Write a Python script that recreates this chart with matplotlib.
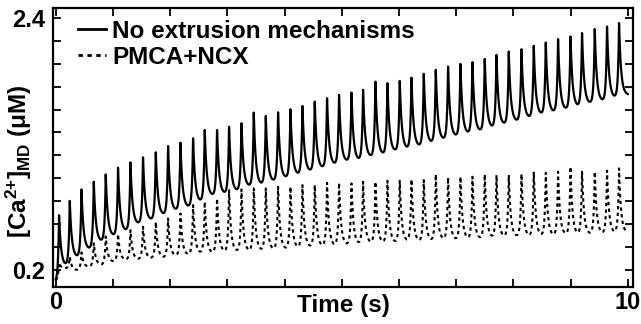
import numpy as np
import matplotlib
matplotlib.use("Agg")
import matplotlib.pyplot as plt
from matplotlib.ticker import MultipleLocator, FuncFormatter

# ---- data ----
spike_t = [0.056, 0.243, 0.448, 0.663, 0.872, 1.087, 1.304, 1.524, 1.747, 1.962,
           2.178, 2.399, 2.603, 2.818, 3.028, 3.245, 3.460, 3.670, 3.885, 4.101,
           4.311, 4.526, 4.741, 4.951, 5.168, 5.371, 5.587, 5.797, 6.012, 6.217,
           6.432, 6.642, 6.857, 7.073, 7.283, 7.498, 7.703, 7.918, 8.140, 8.355,
           8.565, 8.780, 8.997, 9.199, 9.421, 9.636, 9.846]

solid_start = 0.09
solid_peak = [0.676, 0.801, 0.901, 0.968, 1.033, 1.091, 1.138, 1.182, 1.226, 1.281,
              1.310, 1.348, 1.421, 1.421, 1.450, 1.480, 1.573, 1.544, 1.576, 1.602,
              1.631, 1.669, 1.699, 1.728, 1.748, 1.772, 1.844, 1.830, 1.850, 1.879,
              1.912, 1.947, 1.976, 1.999, 2.014, 2.043, 2.078, 2.107, 2.128, 2.157,
              2.186, 2.216, 2.239, 2.269, 2.304, 2.326, 2.356]
solid_trough = [0.229, 0.305, 0.375, 0.442, 0.492, 0.536, 0.597, 0.632, 0.676, 0.714,
                0.744, 0.790, 0.843, 0.860, 0.886, 0.924, 0.939, 0.968, 0.998, 1.027,
                1.056, 1.085, 1.114, 1.143, 1.152, 1.182, 1.202, 1.231, 1.252, 1.275,
                1.304, 1.333, 1.362, 1.386, 1.406, 1.436, 1.465, 1.494, 1.524, 1.552,
                1.573, 1.596, 1.620, 1.649, 1.669, 1.699, 1.728]

dotted_start = 0.10
dotted_peak = [0.26, 0.31, 0.35, 0.43, 0.49, 0.51, 0.545, 0.574, 0.617, 0.647,
               0.691, 0.764, 0.793, 0.822, 0.895, 0.901, 0.910, 0.910, 0.924, 0.924,
               0.939, 0.939, 0.959, 0.959, 0.954, 0.968, 0.968, 0.977, 0.977, 0.989,
               0.983, 1.033, 1.006, 1.012, 1.012, 1.033, 1.027, 1.027, 1.036, 1.056,
               1.047, 1.056, 1.099, 1.056, 1.056, 1.065, 1.085]
dotted_trough = [0.210, 0.194, 0.223, 0.238, 0.267, 0.282, 0.288, 0.297, 0.302, 0.317,
                 0.326, 0.340, 0.340, 0.349, 0.355, 0.355, 0.363, 0.369, 0.375, 0.384,
                 0.393, 0.398, 0.404, 0.413, 0.419, 0.428, 0.428, 0.433, 0.442, 0.442,
                 0.448, 0.457, 0.457, 0.463, 0.466, 0.475, 0.481, 0.486, 0.486, 0.492,
                 0.492, 0.501, 0.501, 0.507, 0.510, 0.516, 0.520]

labels = ["No extrusion mechanisms", "PMCA+NCX"]
t_end = 10.0


def spike_train(t, ts, peaks, troughs, v0, tau_d=0.035, tau_r=0.018):
    ts = np.asarray(ts)
    P = np.asarray(peaks)
    T = np.asarray(troughs)
    v = np.empty_like(t)
    m = t < ts[0]
    v[m] = v0 + (P[0] - v0) * np.exp(-(ts[0] - t[m]) / tau_r)
    n = len(ts)
    for k in range(n):
        t0 = ts[k]
        t1 = ts[k + 1] if k + 1 < n else np.inf
        m = (t >= t0) & (t < t1)
        d1 = t[m] - t0
        val = T[k] + (P[k] - T[k]) * np.exp(-d1 / tau_d)
        if k + 1 < n:
            val = val + (P[k + 1] - T[k]) * np.exp(-(t1 - t[m]) / tau_r)
        v[m] = val
    return v


t = np.union1d(np.linspace(0, t_end, 12001), spike_t)
y_solid = spike_train(t, spike_t, solid_peak, solid_trough, solid_start)
y_dot = spike_train(t, spike_t, dotted_peak, dotted_trough, dotted_start)

plt.rcParams["font.family"] = ["Liberation Sans", "DejaVu Sans"]
plt.rcParams["font.weight"] = "bold"
plt.rcParams["mathtext.fontset"] = "custom"
plt.rcParams["mathtext.rm"] = "Liberation Sans:bold"
plt.rcParams["mathtext.it"] = "Liberation Sans:bold"
plt.rcParams["mathtext.bf"] = "Liberation Sans:bold"
plt.rcParams["mathtext.sf"] = "Liberation Sans:bold"

fig = plt.figure(figsize=(6.41, 3.24), dpi=100)
ax = fig.add_axes([53 / 641, 1 - 287 / 324, 580 / 641, 279 / 324])

ax.plot(t, y_solid, color="black", lw=1.6, label=labels[0])
ax.plot(t, y_dot, color="black", lw=1.5, dashes=(1.6, 1.6), label=labels[1])

ax.set_xlim(-0.05, 10.09)
ax.set_ylim(0.048, 2.488)

ax.xaxis.set_major_locator(MultipleLocator(1))
ax.yaxis.set_major_locator(MultipleLocator(0.2))
ax.xaxis.set_major_formatter(FuncFormatter(
    lambda v, p: "%d" % round(v) if abs(v) < 1e-6 or abs(v - 10) < 1e-6 else ""))
ax.yaxis.set_major_formatter(FuncFormatter(
    lambda v, p: "%.1f" % v if abs(v - 0.2) < 1e-6 or abs(v - 2.4) < 1e-6 else ""))

ax.tick_params(direction="in", length=5.5, width=1.3, top=True, right=True,
               labelsize=17, pad=3)
ax.tick_params(axis="y", pad=6)
for s in ax.spines.values():
    s.set_linewidth(1.6)

ax.set_xlabel("Time (s)", fontsize=17.5, fontweight="bold")
ax.xaxis.set_label_coords(0.5, -0.025)
ax.set_ylabel("[Ca$^{2{+}}$]$_{\\mathrm{MD}}$ (μM)", fontsize=17.5, fontweight="bold")
ax.yaxis.set_label_coords(-0.032, 0.45)

leg = ax.legend(loc="upper left", bbox_to_anchor=(0.043, 0.958), frameon=False,
                fontsize=17.5, handlelength=1.15, handletextpad=0.25,
                labelspacing=0.12, borderpad=0, borderaxespad=0)
for line in leg.get_lines():
    line.set_linewidth(2.0)

fig.savefig("out.png", dpi=100)
